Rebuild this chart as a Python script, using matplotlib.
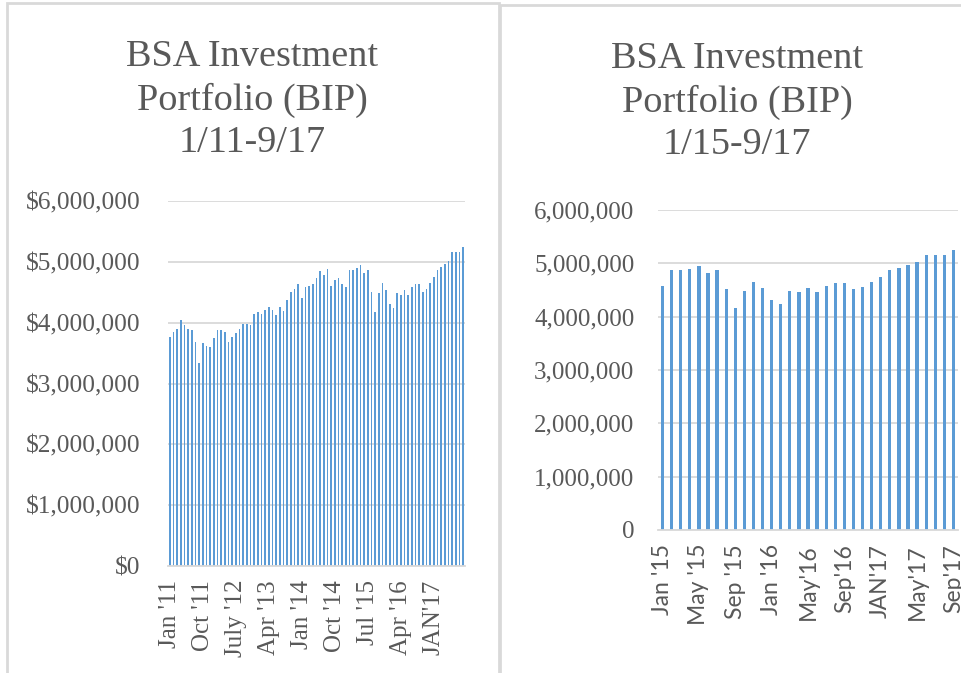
import numpy as np
import matplotlib
matplotlib.use('Agg')
import matplotlib.pyplot as plt
from matplotlib.patches import Rectangle
from matplotlib.ticker import FuncFormatter

# monthly portfolio value, Jan 2011 - Sep 2017 (millions of dollars)
vals_2011_2014 = [3.77, 3.85, 3.90, 4.05, 3.96, 3.90, 3.88, 3.68, 3.33, 3.66, 3.62, 3.60,
                  3.75, 3.88, 3.88, 3.85, 3.68, 3.77, 3.83, 3.90, 3.98, 3.98, 3.96, 4.15,
                  4.17, 4.15, 4.21, 4.26, 4.21, 4.13, 4.26, 4.19, 4.38, 4.51, 4.55, 4.64,
                  4.41, 4.59, 4.61, 4.64, 4.74, 4.85, 4.79, 4.89, 4.61, 4.70, 4.74, 4.64]
vals_2015_2017 = [4.58, 4.87, 4.87, 4.90, 4.95, 4.82, 4.87, 4.51, 4.17, 4.48, 4.65, 4.53,
                  4.31, 4.24, 4.48, 4.46, 4.53, 4.46, 4.58, 4.63, 4.63, 4.51, 4.56, 4.65,
                  4.75, 4.87, 4.92, 4.97, 5.02, 5.16, 5.16, 5.16, 5.25]

left_labels = ["Jan '11", "Oct '11", "July '12", "Apr '13", "Jan '14",
               "Oct '14", "Jul '15", "Apr '16", "JAN'17"]
right_labels = ["Jan '15", "May '15", "Sep '15", "Jan '16", "May'16",
                "Sep'16", "JAN'17", "May'17", "Sep'17"]

left_title = 'BSA Investment\nPortfolio (BIP)\n1/11-9/17'
right_title = 'BSA Investment\nPortfolio (BIP)\n1/15-9/17'

all_vals = np.array(vals_2011_2014 + vals_2015_2017) * 1e6
recent = np.array(vals_2015_2017) * 1e6

blue = '#5b9bd5'
grid = '#d9d9d9'
txt = '#595959'
serif = 'Liberation Serif'

W, H = 961, 673
fig = plt.figure(figsize=(W / 100, H / 100), dpi=100)


def px_axes(x0, x1, ytop, ybot):
    return fig.add_axes([x0 / W, 1 - ybot / H, (x1 - x0) / W, (ybot - ytop) / H])


# panel borders
fig.patches.append(Rectangle((7 / W, -0.1), 492 / W, 1.1 - 3 / H, transform=fig.transFigure,
                             fill=False, edgecolor=grid, lw=2))
fig.patches.append(Rectangle((500 / W, -0.1), 0.6, 1.1 - 5 / H, transform=fig.transFigure,
                             fill=False, edgecolor=grid, lw=2))


def style(ax):
    ax.set_ylim(0, 6e6)
    ax.set_yticks(np.arange(0, 6.01e6, 1e6))
    ax.grid(axis='y', color=grid, lw=1.3)
    ax.set_axisbelow(True)
    for s in ['top', 'right', 'left']:
        ax.spines[s].set_visible(False)
    ax.spines['bottom'].set_color(grid)
    ax.spines['bottom'].set_linewidth(1.3)
    ax.tick_params(length=0, colors=txt)


# left chart
ax1 = px_axes(168, 465, 201, 566)
x1 = np.arange(len(all_vals))
ax1.bar(x1, all_vals, width=0.4, color=blue)
style(ax1)
ax1.set_xlim(-0.5, len(all_vals) - 0.5)
ax1.yaxis.set_major_formatter(FuncFormatter(lambda v, p: '${:,.0f}'.format(v)))
ax1.set_xticks(np.arange(0, len(all_vals), 9)[:len(left_labels)])
ax1.set_xticklabels(left_labels, rotation=90, fontsize=18, family=serif, color=txt)
ax1.tick_params(axis='y', pad=20)
for lab in ax1.get_yticklabels():
    lab.set_fontsize(18.3)
    lab.set_family(serif)
ax1.tick_params(axis='x', pad=10)
fig.text(252 / W, 1 - 100 / H, left_title, ha='center', va='center', fontsize=27.5,
         family=serif, color=txt, linespacing=1.3)

# right chart
ax2 = px_axes(658, 958, 210, 530)
x2 = np.arange(len(recent))
ax2.bar(x2, recent, width=0.36, color=blue)
style(ax2)
ax2.set_xlim(-0.5, len(recent) - 0.5)
ax2.yaxis.set_major_formatter(FuncFormatter(lambda v, p: '{:,.0f}'.format(v)))
ax2.set_xticks(np.arange(0, len(recent), 4)[:len(right_labels)])
ax2.set_xticklabels(right_labels, rotation=90, fontsize=16.5, family='Lato', color=txt)
ax2.tick_params(axis='y', pad=17)
for lab in ax2.get_yticklabels():
    lab.set_fontsize(18)
    lab.set_family(serif)
ax2.tick_params(axis='x', pad=10)
fig.text(737 / W, 1 - 102 / H, right_title, ha='center', va='center', fontsize=27.5,
         family=serif, color=txt, linespacing=1.3)

fig.savefig('out.png', dpi=100, facecolor='white')
